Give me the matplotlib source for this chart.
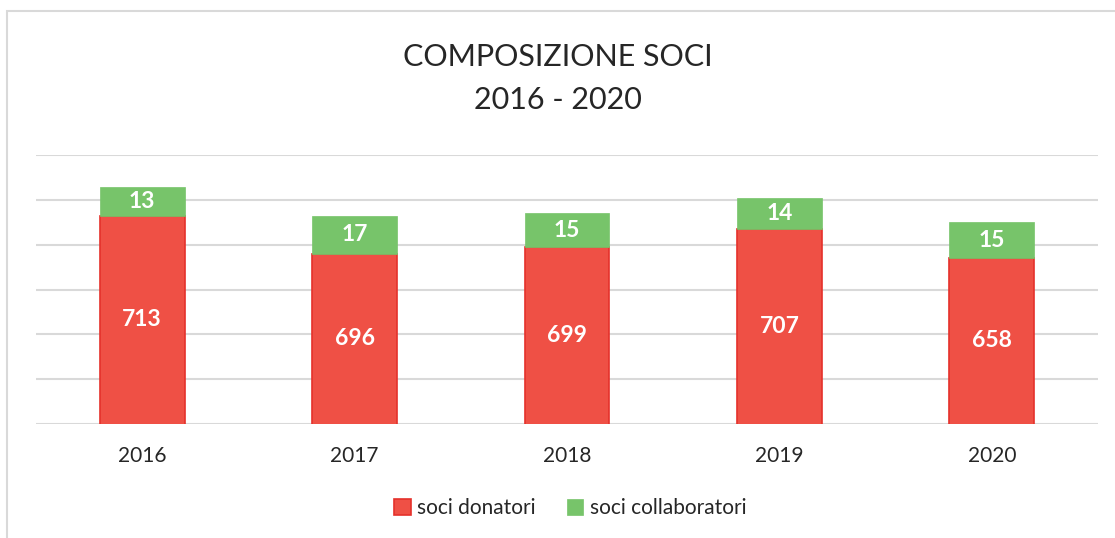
import matplotlib
matplotlib.use('Agg')
import matplotlib.pyplot as plt
from matplotlib.patches import Rectangle

# Dati
anni = ['2016', '2017', '2018', '2019', '2020']
soci_donatori = [713, 696, 699, 707, 694]
soci_collaboratori = [13, 17, 15, 14, 16]
# etichette come stampate sul grafico originale
etichette_donatori = ['713', '696', '699', '707', '658']
etichette_collaboratori = ['13', '17', '15', '14', '15']

ROSSO = '#EF5045'
ROSSO_BORDO = '#E5312B'
VERDE = '#77C46A'
GRIGIO = '#D9D9D9'

plt.rcParams['font.family'] = ['Lato', 'DejaVu Sans']

fig = plt.figure(figsize=(11.15, 5.38), dpi=100)
ax = fig.add_axes([36 / 1115, 1 - 423.7 / 538, 1062 / 1115, 268.4 / 538])

# cornice esterna grigia
fig.patches.append(Rectangle((7 / 1115, -0.1), 1.2, 1 - 11 / 538 + 0.1,
                             transform=fig.transFigure, fill=False,
                             edgecolor=GRIGIO, linewidth=1.5))

x = range(len(anni))
b1 = ax.bar(x, soci_donatori, width=0.4, color=ROSSO, edgecolor=ROSSO_BORDO,
            linewidth=1.2, label='soci donatori', zorder=3)
b2 = ax.bar(x, soci_collaboratori, width=0.4, bottom=soci_donatori, color=VERDE,
            edgecolor=VERDE, linewidth=0.5, label='soci collaboratori', zorder=3)

ax.bar_label(b1, labels=etichette_donatori, label_type='center', color='white',
             fontsize=16.5, fontweight='bold')
ax.bar_label(b2, labels=etichette_collaboratori, label_type='center', color='white',
             fontsize=16.5, fontweight='bold')

ax.set_ylim(620, 740)
ax.set_xlim(-0.5, len(anni) - 0.5)
ax.set_yticks(range(620, 741, 20))
ax.yaxis.grid(True, color=GRIGIO, linewidth=1.5, zorder=0)
ax.set_yticklabels([])
ax.set_xticks(list(x))
ax.set_xticklabels(anni, fontsize=15, color='#262626')
ax.tick_params(axis='both', length=0)
ax.tick_params(axis='x', pad=16)
for lato in ax.spines.values():
    lato.set_visible(False)

fig.text(0.5, 1 - 57 / 538, 'COMPOSIZIONE SOCI', ha='center', va='center',
         fontsize=22, color='#262626')
fig.text(0.5, 1 - 100 / 538, '2016 - 2020', ha='center', va='center',
         fontsize=22, color='#262626')

fig.legend(handles=[b1, b2], loc='center', bbox_to_anchor=(570 / 1115, 1 - 508 / 538),
           ncol=2, frameon=False, fontsize=15, handlelength=0.8, handleheight=0.8,
           handletextpad=0.3, columnspacing=1.5, labelcolor='#262626')

fig.savefig('out.png', dpi=100, facecolor='white')
